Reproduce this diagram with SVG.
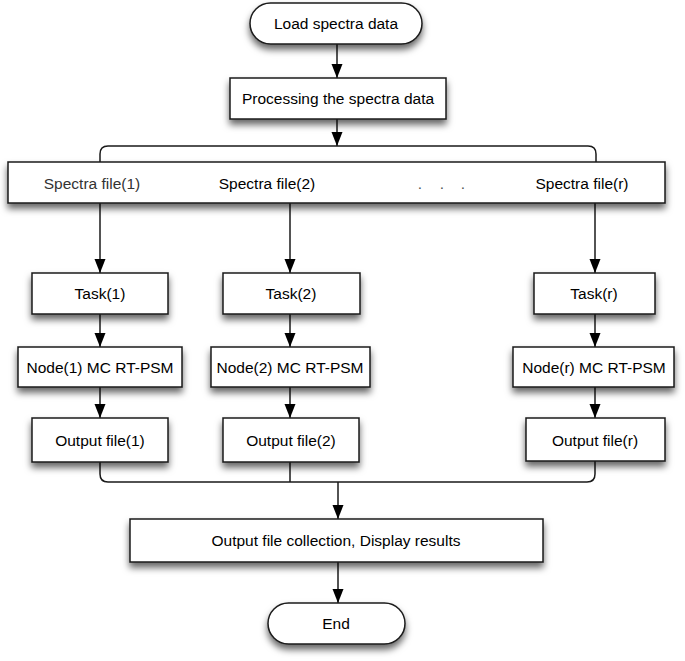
<svg xmlns="http://www.w3.org/2000/svg" width="685" height="661" viewBox="0 0 685 661">
<style>
.box{fill:#fff;stroke:#1a1a1a;stroke-width:1.5;filter:url(#sh)}
.lbl{font-family:"Liberation Sans",Arial,sans-serif;font-size:15.5px;fill:#000;text-anchor:middle}
.con{fill:none;stroke:#1a1a1a;stroke-width:1.5}
</style>
<defs>
<filter id="sh" x="-10%" y="-20%" width="120%" height="170%">
<feDropShadow dx="0" dy="5" stdDeviation="3.5" flood-color="#000" flood-opacity="0.6"/>
</filter>
<marker id="ar" markerWidth="14" markerHeight="14" viewBox="0 0 14 14" refX="14" refY="7" orient="auto" markerUnits="userSpaceOnUse">
<path d="M0,1.5 L14,7 L0,12.5 Z" fill="#000"/>
</marker>
</defs>
<rect width="685" height="661" fill="#fff"/>
<g id="connectors">
<path class="con" d="M337,44 V78" marker-end="url(#ar)"/>
<path class="con" d="M337,119 V146" marker-end="url(#ar)"/>
<path class="con" d="M100,162 V154 Q100,146 108,146 H588 Q596,146 596,154 V162"/>
<path class="con" d="M100,203 V273" marker-end="url(#ar)"/>
<path class="con" d="M290,203 V273" marker-end="url(#ar)"/>
<path class="con" d="M595,203 V273" marker-end="url(#ar)"/>
<path class="con" d="M100,314 V347" marker-end="url(#ar)"/>
<path class="con" d="M290,314 V347" marker-end="url(#ar)"/>
<path class="con" d="M595,314 V347" marker-end="url(#ar)"/>
<path class="con" d="M100,387 V418" marker-end="url(#ar)"/>
<path class="con" d="M290,387 V418" marker-end="url(#ar)"/>
<path class="con" d="M595,387 V418" marker-end="url(#ar)"/>
<path class="con" d="M100,462 V474 Q100,482 108,482 H587 Q595,482 595,474 V461"/>
<path class="con" d="M290,462 V482"/>
<path class="con" d="M338,482 V519" marker-end="url(#ar)"/>
<path class="con" d="M338,562 V603" marker-end="url(#ar)"/>
</g>
<g id="load"><rect class="box" x="250" y="3" width="172" height="41" rx="20.5"/><text class="lbl" x="336" y="29">Load spectra data</text></g>
<g id="process"><rect class="box" x="230" y="78" width="216" height="41"/><text class="lbl" x="338" y="104">Processing the spectra data</text></g>
<g id="spectra"><rect class="box" x="8" y="162" width="657" height="41"/>
<text class="lbl" x="92" y="189" style="fill:#333">Spectra file(1)</text>
<text class="lbl" x="267" y="189">Spectra file(2)</text>
<text class="lbl" x="420" y="189" style="fill:#555">.</text>
<text class="lbl" x="442" y="189" style="fill:#555">.</text>
<text class="lbl" x="463" y="189" style="fill:#555">.</text>
<text class="lbl" x="582" y="189">Spectra file(r)</text></g>
<g id="task1"><rect class="box" x="32" y="273" width="136" height="41"/><text class="lbl" x="100" y="299">Task(1)</text></g>
<g id="task2"><rect class="box" x="223" y="273" width="137" height="41"/><text class="lbl" x="291" y="299">Task(2)</text></g>
<g id="taskr"><rect class="box" x="534" y="273" width="121" height="41"/><text class="lbl" x="594" y="299">Task(r)</text></g>
<g id="node1"><rect class="box" x="18" y="347" width="164" height="40"/><text class="lbl" x="100" y="373">Node(1) MC RT-PSM</text></g>
<g id="node2"><rect class="box" x="211" y="347" width="159" height="40"/><text class="lbl" x="290" y="373">Node(2) MC RT-PSM</text></g>
<g id="noder"><rect class="box" x="513" y="347" width="161" height="40"/><text class="lbl" x="594" y="373">Node(r) MC RT-PSM</text></g>
<g id="out1"><rect class="box" x="32" y="418" width="136" height="44"/><text class="lbl" x="100" y="446">Output file(1)</text></g>
<g id="out2"><rect class="box" x="223" y="418" width="136" height="44"/><text class="lbl" x="291" y="446">Output file(2)</text></g>
<g id="outr"><rect class="box" x="526" y="418" width="139" height="43"/><text class="lbl" x="595" y="446">Output file(r)</text></g>
<g id="collect"><rect class="box" x="130" y="519" width="413" height="43"/><text class="lbl" x="336" y="546">Output file collection, Display results</text></g>
<g id="end"><rect class="box" x="268" y="603" width="137" height="41" rx="20.5"/><text class="lbl" x="336" y="629">End</text></g>
</svg>
